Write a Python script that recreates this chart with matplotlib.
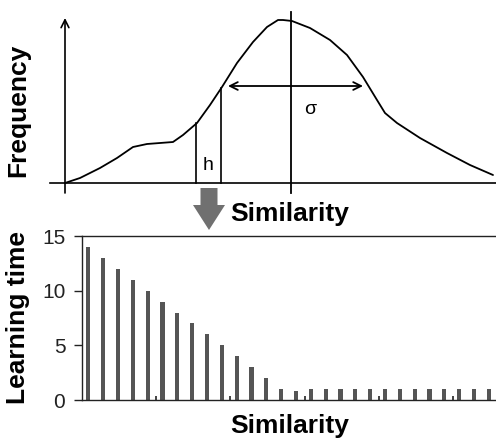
import matplotlib
matplotlib.use("Agg")
import matplotlib.pyplot as plt
from matplotlib.patches import FancyArrow

plt.rcParams['font.family'] = ['Liberation Sans', 'DejaVu Sans']

# --- top panel: frequency curve (sketch) ---
curve_sim = [0, 15, 35, 52, 68, 82, 95, 108, 118, 132, 145, 157, 172, 188,
             202, 213, 218, 227, 245, 265, 282, 298, 312, 320, 332, 355,
             382, 405, 428]
curve_freq = [0, 5, 15, 25, 36, 39, 40, 41, 48, 60, 78, 96, 120, 141,
              156, 163, 163, 162, 155, 143, 128, 106, 83, 70, 60, 45,
              30, 18, 8]
mean_sim = 226
h_sims = [131, 156]
h_freqs = [60, 95]
sigma_span = [163, 298]
sigma_freq = 97

# --- bottom panel: learning time vs similarity ---
learning_time = [14, 13, 12, 11, 10, 9, 8, 7, 6, 5, 4, 3, 2, 1, 0.85,
                 1, 1, 1, 1, 1, 1, 1, 1, 1, 1, 1, 1, 1]
bar_pos = [i + 0.42 for i in range(len(learning_time))]
y_ticks = [0, 5, 10, 15]
x_ticks = [5, 10, 15, 20, 25]

fig = plt.figure(figsize=(4.96, 4.43), dpi=100)

# top sketch
top = fig.add_axes([0, (443 - 232) / 443, 1, 232 / 443])
top.set_xlim(-65, 431)
top.set_ylim(-49, 183)
top.axis('off')

top.plot(curve_sim, curve_freq, color='black', lw=1.3,
         solid_joinstyle='round', solid_capstyle='round')
top.plot([-15, 431], [0, 0], color='black', lw=1.2)
top.annotate('', xy=(0, 165), xytext=(0, -10),
             arrowprops=dict(arrowstyle='->', lw=1.2, color='black',
                             shrinkA=0, shrinkB=0, mutation_scale=14))
top.plot([mean_sim, mean_sim], [-10, 171], color='black', lw=1.3)
for s, f in zip(h_sims, h_freqs):
    top.plot([s, s], [0, f], color='black', lw=1.2)
top.annotate('', xy=(sigma_span[0], sigma_freq), xytext=(sigma_span[1], sigma_freq),
             arrowprops=dict(arrowstyle='<->', lw=1.3, color='black',
                             shrinkA=0, shrinkB=0, mutation_scale=14))
top.text(245, 73, 'σ', fontsize=14, ha='center', va='center')
top.text(143, 18, 'h', fontsize=14, ha='center', va='center')
top.add_patch(FancyArrow(144, -5, 0, -17, width=17, head_width=32,
                         head_length=25, length_includes_head=False,
                         color='#707070', lw=0))
top.text(225, -31, 'Similarity', fontsize=19, fontweight='bold',
         ha='center', va='center')
fig.text(18 / 496, 1 - 110 / 443, 'Frequency', rotation=90, fontsize=19,
         fontweight='bold', ha='center', va='center')

# bottom bar chart
ax = fig.add_axes([82 / 496, (443 - 400) / 443, 1 - 82 / 496, 164 / 443])
ax.bar(bar_pos, learning_time, width=0.28, color='#555555')
ax.set_xlim(0, 27.9)
ax.set_ylim(0, 15)
ax.set_yticks(y_ticks)
ax.set_xticks(x_ticks)
ax.set_xticklabels([])
ax.tick_params(axis='y', direction='out', length=6, width=1, pad=6,
               labelsize=15, colors='#222222')
ax.tick_params(axis='x', direction='in', length=3, width=1.2, color='#222222')
ax.spines['right'].set_visible(False)
for sp in ['left', 'bottom', 'top']:
    ax.spines[sp].set_color('#222222')
    ax.spines[sp].set_linewidth(1)
fig.text(18 / 496, 1 - 317 / 443, 'Learning time', rotation=90, fontsize=19,
         fontweight='bold', ha='center', va='center')
fig.text(290 / 496, 1 - 426 / 443, 'Similarity', fontsize=19,
         fontweight='bold', ha='center', va='center')

fig.savefig('out.png', dpi=100)
